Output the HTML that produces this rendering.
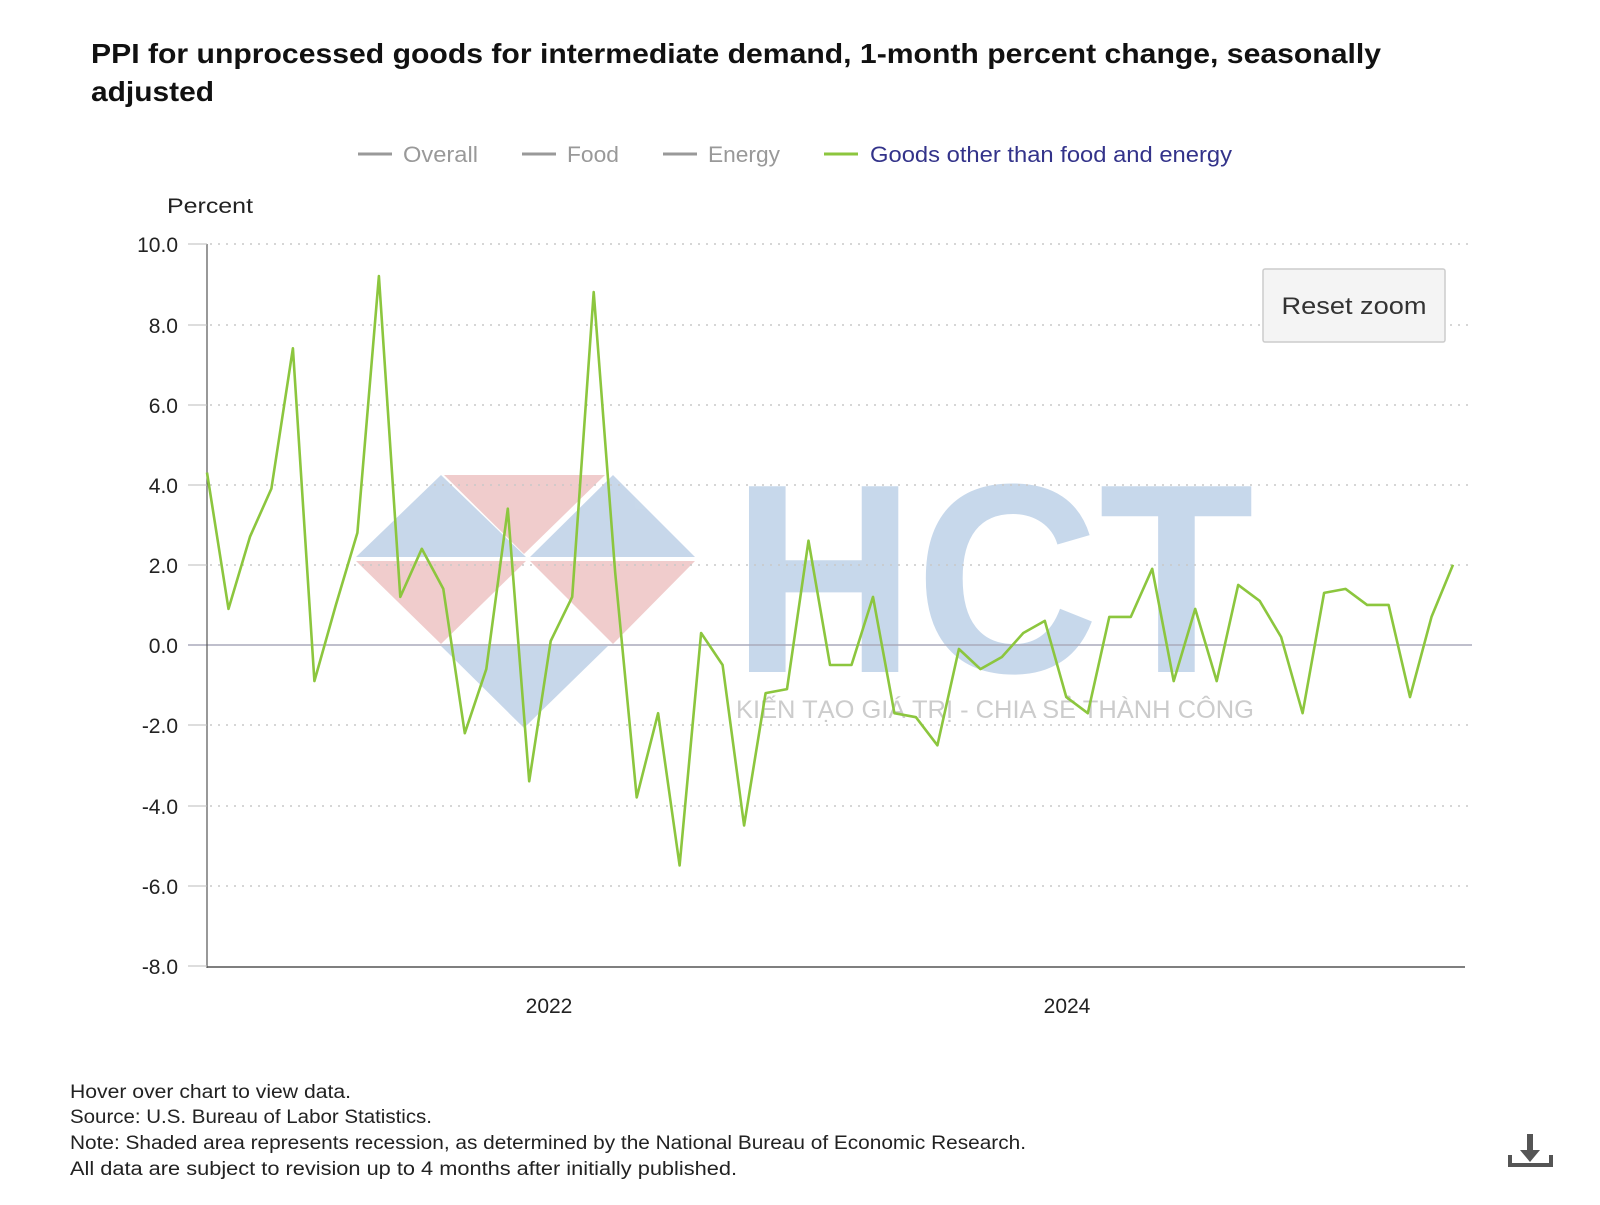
<!DOCTYPE html>
<html><head><meta charset="utf-8"><style>
body{margin:0;background:#fff;width:1600px;height:1200px;overflow:hidden;font-family:"Liberation Sans",sans-serif}
</style></head><body>
<svg width="1600" height="1200" xmlns="http://www.w3.org/2000/svg" font-family="'Liberation Sans','DejaVu Sans',sans-serif">
<text x="91" y="63" font-size="28" font-weight="bold" fill="#111" textLength="1290" lengthAdjust="spacingAndGlyphs">PPI for unprocessed goods for intermediate demand, 1-month percent change, seasonally</text>
<text x="91" y="101" font-size="28" font-weight="bold" fill="#111" textLength="123" lengthAdjust="spacingAndGlyphs">adjusted</text>
<g font-size="22">
<line x1="358" y1="154" x2="392" y2="154" stroke="#999" stroke-width="3"/><text x="403" y="162" fill="#999" textLength="75" lengthAdjust="spacingAndGlyphs">Overall</text>
<line x1="522" y1="154" x2="556" y2="154" stroke="#999" stroke-width="3"/><text x="567" y="162" fill="#999" textLength="52" lengthAdjust="spacingAndGlyphs">Food</text>
<line x1="663" y1="154" x2="697" y2="154" stroke="#999" stroke-width="3"/><text x="708" y="162" fill="#999" textLength="72" lengthAdjust="spacingAndGlyphs">Energy</text>
<line x1="824" y1="154" x2="858" y2="154" stroke="#8cc63e" stroke-width="3"/><text x="870" y="162" fill="#33338a" textLength="362" lengthAdjust="spacingAndGlyphs">Goods other than food and energy</text>
</g>
<text x="167" y="213" font-size="21" fill="#222" textLength="86" lengthAdjust="spacingAndGlyphs">Percent</text>
<g opacity="0.55">
<polygon points="441,475 356,557 526,557" fill="#9bb8d9"/>
<polygon points="444,475 605,475 524,554" fill="#e5a3a3"/>
<polygon points="613,475 530,557 695,557" fill="#9bb8d9"/>
<polygon points="356,561 526,561 441,644" fill="#e5a3a3"/>
<polygon points="530,561 695,561 613,644" fill="#e5a3a3"/>
<polygon points="441,646 608,646 524,728" fill="#9bb8d9"/>
</g>
<text x="732" y="672" font-size="270" font-weight="bold" fill="#c7d8eb" textLength="522" lengthAdjust="spacingAndGlyphs">HCT</text>
<text x="736" y="718" font-size="25" fill="#ccc" textLength="518" lengthAdjust="spacingAndGlyphs">KIẾN TẠO GIÁ TRỊ - CHIA SẺ THÀNH CÔNG</text>
<g stroke="#c8c8c8" stroke-width="1.5" stroke-dasharray="2,6">
<line x1="210" y1="244" x2="1472" y2="244"/><line x1="210" y1="325" x2="1472" y2="325"/><line x1="210" y1="405" x2="1472" y2="405"/><line x1="210" y1="485" x2="1472" y2="485"/><line x1="210" y1="565" x2="1472" y2="565"/><line x1="210" y1="725" x2="1472" y2="725"/><line x1="210" y1="806" x2="1472" y2="806"/><line x1="210" y1="886" x2="1472" y2="886"/>
</g>
<line x1="188" y1="645" x2="1472" y2="645" stroke="#aab" stroke-width="1.5"/>
<line x1="207" y1="244" x2="207" y2="968" stroke="#555" stroke-width="1.2"/>
<line x1="207" y1="967" x2="1465" y2="967" stroke="#555" stroke-width="1.5"/>
<g stroke="#bbb"><line x1="188" y1="244" x2="207" y2="244"/><line x1="188" y1="325" x2="207" y2="325"/><line x1="188" y1="405" x2="207" y2="405"/><line x1="188" y1="485" x2="207" y2="485"/><line x1="188" y1="565" x2="207" y2="565"/><line x1="188" y1="725" x2="207" y2="725"/><line x1="188" y1="806" x2="207" y2="806"/><line x1="188" y1="886" x2="207" y2="886"/><line x1="188" y1="966" x2="207" y2="966"/></g>
<g font-size="21" fill="#222" text-anchor="end">
<text x="178" y="252">10.0</text><text x="178" y="333">8.0</text><text x="178" y="413">6.0</text><text x="178" y="493">4.0</text><text x="178" y="573">2.0</text><text x="178" y="653">0.0</text><text x="178" y="733">-2.0</text><text x="178" y="814">-4.0</text><text x="178" y="894">-6.0</text><text x="178" y="974">-8.0</text>
</g>
<g font-size="21" fill="#222" text-anchor="middle"><text x="549" y="1013">2022</text><text x="1067" y="1013">2024</text></g>
<polyline fill="none" stroke="#8cc63e" stroke-width="2.6" stroke-linejoin="round" id="ln" points=""/>
<rect x="1263" y="269" width="182" height="73" fill="#f4f4f4" stroke="#ccc" stroke-width="1.5" rx="2"/>
<text x="1354" y="314" font-size="24" fill="#333" text-anchor="middle" textLength="145" lengthAdjust="spacingAndGlyphs">Reset zoom</text>
<g font-size="19" fill="#222">
<text x="70" y="1098" textLength="281" lengthAdjust="spacingAndGlyphs">Hover over chart to view data.</text>
<text x="70" y="1123" textLength="362" lengthAdjust="spacingAndGlyphs">Source: U.S. Bureau of Labor Statistics.</text>
<text x="70" y="1149" textLength="956" lengthAdjust="spacingAndGlyphs">Note: Shaded area represents recession, as determined by the National Bureau of Economic Research.</text>
<text x="70" y="1175" textLength="667" lengthAdjust="spacingAndGlyphs">All data are subject to revision up to 4 months after initially published.</text>
</g>
<g fill="#555"><rect x="1527" y="1134" width="6" height="18"/><polygon points="1520,1150 1540,1150 1530,1162"/><rect x="1508" y="1163" width="45" height="4"/><rect x="1508" y="1155" width="4" height="12"/><rect x="1549" y="1155" width="4" height="12"/></g>
</svg>
<script>
var v=[4.3,0.9,2.7,3.9,7.4,-0.9,1.0,2.8,9.2,1.2,2.4,1.4,-2.2,-0.6,3.4,-3.4,0.1,1.2,8.8,1.8,-3.8,-1.7,-5.5,0.3,-0.5,-4.5,-1.2,-1.1,2.6,-0.5,-0.5,1.2,-1.7,-1.8,-2.5,-0.1,-0.6,-0.3,0.3,0.6,-1.3,-1.7,0.7,0.7,1.9,-0.9,0.9,-0.9,1.5,1.1,0.2,-1.7,1.3,1.4,1.0,1.0,-1.3,0.7,2.0];
var n=v.length,p=[];for(var i=0;i<n;i++){p.push((207+i*(1453-207)/(n-1)).toFixed(1)+","+(645-40.1*v[i]).toFixed(1));}
document.getElementById("ln").setAttribute("points",p.join(" "));
</script>
</body></html>
